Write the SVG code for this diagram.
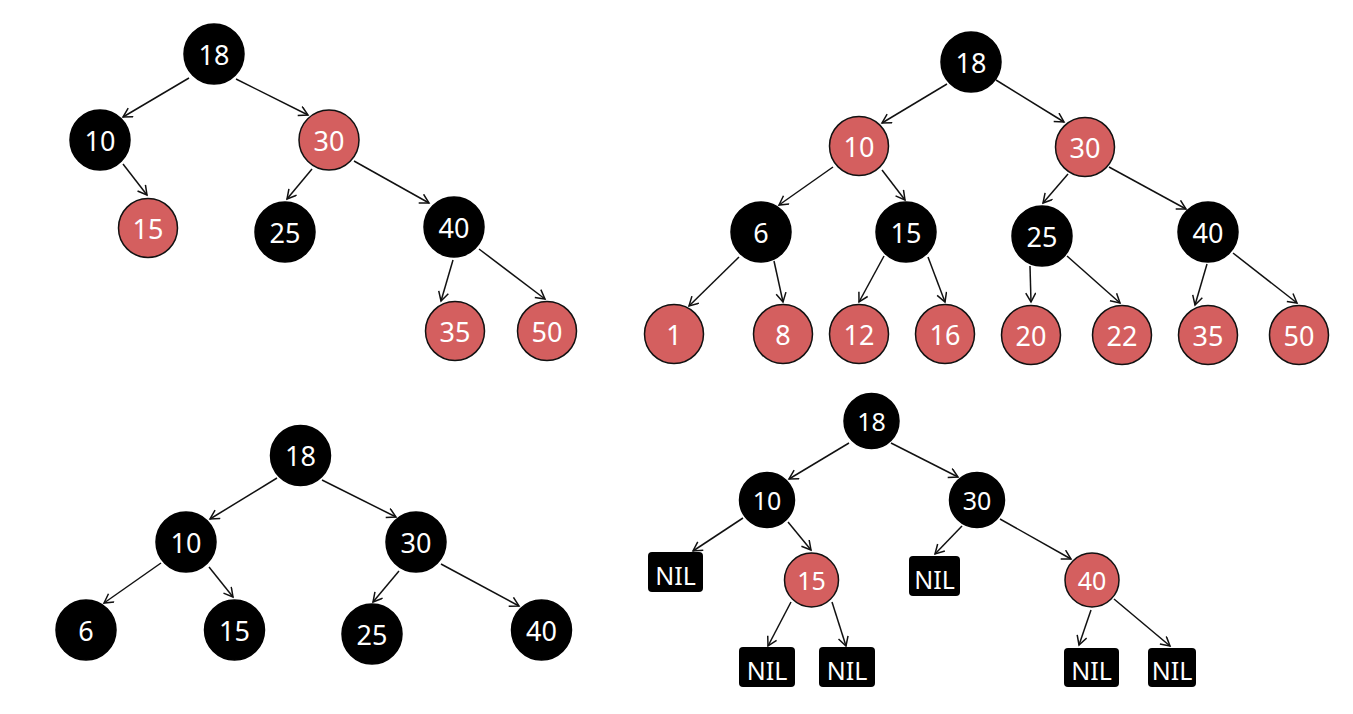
<svg xmlns="http://www.w3.org/2000/svg" width="1353" height="714" viewBox="0 0 1353 714">
<style>
.b{fill:#000;stroke:#000;stroke-width:1.5}
.r{fill:#d45f5f;stroke:#111;stroke-width:1.5}
.nil{fill:#000}
text{font-family:"Noto Sans","Open Sans","DejaVu Sans",sans-serif;fill:#fff;text-anchor:middle}
.t{font-size:27px}
.s{font-size:25px}
.n{font-size:25px}
.c line{stroke:#111;stroke-width:1.5;marker-end:url(#ah)}
</style>
<defs>
<marker id="ah" markerUnits="userSpaceOnUse" markerWidth="14" markerHeight="14" refX="10" refY="5.5" orient="auto">
<path d="M1,0.5 L10,5.5 L1,10.5" fill="none" stroke="#111" stroke-width="1.5"/>
</marker>
</defs>
<rect width="1353" height="714" fill="#fff"/>

<!-- Tree 1 -->
<g class="c" id="connectors1">
<line x1="189" y1="78" x2="123" y2="117"/>
<line x1="236" y1="79" x2="308" y2="115"/>
<line x1="123" y1="164" x2="147" y2="195"/>
<line x1="312" y1="169" x2="287" y2="199"/>
<line x1="354" y1="161" x2="429" y2="203"/>
<line x1="453" y1="260" x2="441" y2="301"/>
<line x1="479" y1="249" x2="545" y2="299"/>
</g>
<g id="t1n18"><circle class="b" cx="214" cy="54" r="30"/><text class="t" x="214" y="64.5">18</text></g>
<g id="t1n10"><circle class="b" cx="100" cy="140" r="30"/><text class="t" x="100" y="150.5">10</text></g>
<g id="t1n30"><circle class="r" cx="329" cy="140" r="30"/><text class="t" x="329" y="150.5">30</text></g>
<g id="t1n15"><circle class="r" cx="148" cy="228" r="29.5"/><text class="t" x="148" y="238.5">15</text></g>
<g id="t1n25"><circle class="b" cx="285" cy="232" r="30"/><text class="t" x="285" y="242.5">25</text></g>
<g id="t1n40"><circle class="b" cx="454" cy="227" r="30"/><text class="t" x="454" y="237.5">40</text></g>
<g id="t1n35"><circle class="r" cx="455" cy="331" r="29.5"/><text class="t" x="455" y="341.5">35</text></g>
<g id="t1n50"><circle class="r" cx="547" cy="331" r="29.5"/><text class="t" x="547" y="341.5">50</text></g>

<!-- Tree 2 -->
<g class="c" id="connectors2">
<line x1="947" y1="84" x2="882" y2="123"/>
<line x1="996" y1="80" x2="1064" y2="122"/>
<line x1="833" y1="167" x2="779" y2="205"/>
<line x1="882" y1="170" x2="905" y2="200"/>
<line x1="739" y1="257" x2="689" y2="306"/>
<line x1="774" y1="261" x2="783" y2="302"/>
<line x1="884" y1="256" x2="859" y2="302"/>
<line x1="928" y1="257" x2="945" y2="302"/>
<line x1="1068" y1="174" x2="1043" y2="203"/>
<line x1="1109" y1="167" x2="1186" y2="209"/>
<line x1="1030" y1="266" x2="1031" y2="302"/>
<line x1="1067" y1="256" x2="1120" y2="303"/>
<line x1="1207" y1="264" x2="1195" y2="305"/>
<line x1="1233" y1="253" x2="1297" y2="303"/>
</g>
<g id="t2n18"><circle class="b" cx="971" cy="62" r="30"/><text class="t" x="971" y="72.5">18</text></g>
<g id="t2n10"><circle class="r" cx="859" cy="146" r="29.5"/><text class="t" x="859" y="156.5">10</text></g>
<g id="t2n30"><circle class="r" cx="1085" cy="147" r="29.5"/><text class="t" x="1085" y="157.5">30</text></g>
<g id="t2n6"><circle class="b" cx="761" cy="232" r="30"/><text class="t" x="761" y="242.5">6</text></g>
<g id="t2n15"><circle class="b" cx="906" cy="232" r="30"/><text class="t" x="906" y="242.5">15</text></g>
<g id="t2n25"><circle class="b" cx="1042" cy="236" r="30"/><text class="t" x="1042" y="246.5">25</text></g>
<g id="t2n40"><circle class="b" cx="1208" cy="232" r="30"/><text class="t" x="1208" y="242.5">40</text></g>
<g id="t2n1"><circle class="r" cx="674" cy="334" r="29.5"/><text class="t" x="674" y="344.5">1</text></g>
<g id="t2n8"><circle class="r" cx="783" cy="334" r="29.5"/><text class="t" x="783" y="344.5">8</text></g>
<g id="t2n12"><circle class="r" cx="859" cy="334" r="29.5"/><text class="t" x="859" y="344.5">12</text></g>
<g id="t2n16"><circle class="r" cx="945" cy="334" r="29.5"/><text class="t" x="945" y="344.5">16</text></g>
<g id="t2n20"><circle class="r" cx="1031" cy="335" r="29.5"/><text class="t" x="1031" y="345.5">20</text></g>
<g id="t2n22"><circle class="r" cx="1122" cy="335" r="29.5"/><text class="t" x="1122" y="345.5">22</text></g>
<g id="t2n35"><circle class="r" cx="1208" cy="335" r="29.5"/><text class="t" x="1208" y="345.5">35</text></g>
<g id="t2n50"><circle class="r" cx="1299" cy="335" r="29.5"/><text class="t" x="1299" y="345.5">50</text></g>

<!-- Tree 3 -->
<g class="c" id="connectors3">
<line x1="277" y1="478" x2="210" y2="519"/>
<line x1="322" y1="480" x2="396" y2="517"/>
<line x1="161" y1="563" x2="104" y2="603"/>
<line x1="209" y1="567" x2="233" y2="597"/>
<line x1="399" y1="571" x2="373" y2="602"/>
<line x1="441" y1="564" x2="519" y2="606"/>
</g>
<g id="t3n18"><circle class="b" cx="300.5" cy="455.5" r="30"/><text class="t" x="300.5" y="466">18</text></g>
<g id="t3n10"><circle class="b" cx="186" cy="542" r="30"/><text class="t" x="186" y="552.5">10</text></g>
<g id="t3n30"><circle class="b" cx="416" cy="542" r="30"/><text class="t" x="416" y="552.5">30</text></g>
<g id="t3n6"><circle class="b" cx="86" cy="630" r="30"/><text class="t" x="86" y="640.5">6</text></g>
<g id="t3n15"><circle class="b" cx="234.5" cy="630" r="30"/><text class="t" x="234.5" y="640.5">15</text></g>
<g id="t3n25"><circle class="b" cx="372" cy="634" r="30"/><text class="t" x="372" y="644.5">25</text></g>
<g id="t3n40"><circle class="b" cx="541.5" cy="630" r="30"/><text class="t" x="541.5" y="640.5">40</text></g>

<!-- Tree 4 -->
<g class="c" id="connectors4">
<line x1="849" y1="443" x2="789" y2="479"/>
<line x1="891" y1="443" x2="958" y2="477"/>
<line x1="743" y1="518" x2="693" y2="551"/>
<line x1="788" y1="522" x2="811" y2="550"/>
<line x1="791" y1="602" x2="768" y2="646"/>
<line x1="832" y1="602" x2="846" y2="646"/>
<line x1="962" y1="526" x2="935" y2="554"/>
<line x1="1000" y1="519" x2="1071" y2="559"/>
<line x1="1091" y1="610" x2="1079" y2="645"/>
<line x1="1114" y1="599" x2="1170" y2="646"/>
</g>
<g id="t4n18"><circle class="b" cx="871.5" cy="421" r="27.5"/><text class="s" x="871.5" y="430.5">18</text></g>
<g id="t4n10"><circle class="b" cx="767" cy="500" r="27.5"/><text class="s" x="767" y="509.5">10</text></g>
<g id="t4n30"><circle class="b" cx="977" cy="500" r="27.5"/><text class="s" x="977" y="509.5">30</text></g>
<g id="t4n15"><circle class="r" cx="811.5" cy="580" r="27"/><text class="s" x="811.5" y="589.5">15</text></g>
<g id="t4n40"><circle class="r" cx="1092" cy="580" r="27"/><text class="s" x="1092" y="589.5">40</text></g>
<g id="t4nil1"><rect class="nil" x="648" y="552" width="55" height="40" rx="4"/><text class="n" x="675.5" y="585">NIL</text></g>
<g id="t4nil2"><rect class="nil" x="739" y="647" width="56" height="40" rx="4"/><text class="n" x="767" y="680">NIL</text></g>
<g id="t4nil3"><rect class="nil" x="819" y="647" width="56" height="40" rx="4"/><text class="n" x="847" y="680">NIL</text></g>
<g id="t4nil4"><rect class="nil" x="909" y="556" width="51" height="40" rx="4"/><text class="n" x="934.5" y="589">NIL</text></g>
<g id="t4nil5"><rect class="nil" x="1064" y="648" width="55" height="39" rx="4"/><text class="n" x="1091.5" y="680">NIL</text></g>
<g id="t4nil6"><rect class="nil" x="1148" y="648" width="48" height="39" rx="4"/><text class="n" x="1172" y="680">NIL</text></g>
</svg>
